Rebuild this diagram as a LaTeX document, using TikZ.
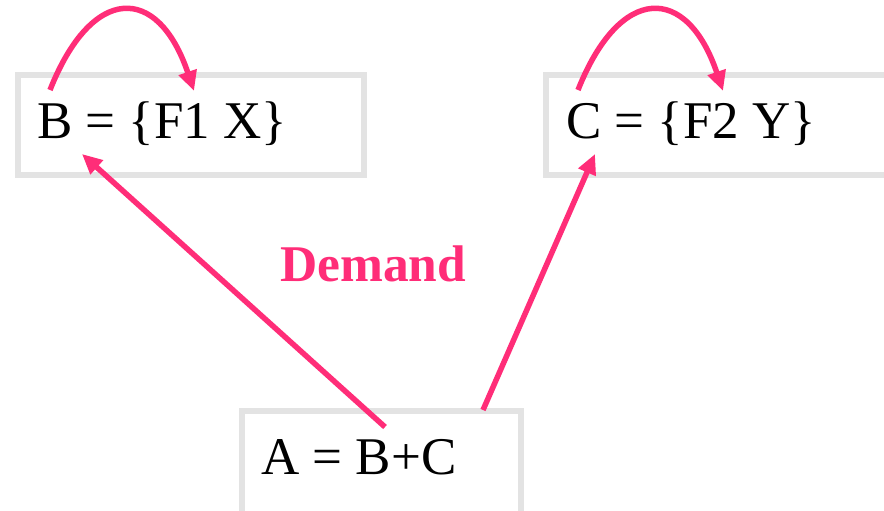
\documentclass[tikz,border=0pt]{standalone}
\usepackage{fontspec}
\setmainfont{Liberation Serif}
\usetikzlibrary{arrows.meta}
\definecolor{pinkc}{RGB}{255,45,120}
\definecolor{boxgrey}{RGB}{227,227,227}
\begin{document}
\begin{tikzpicture}[x=1pt,y=-1pt,
  boxst/.style={draw=boxgrey,line width=5.5pt,rectangle,inner sep=0pt},
  lbl/.style={anchor=base west,inner sep=0pt,font=\fontsize{53}{60}\selectfont},
  conn/.style={draw=pinkc,line width=5.5pt,-{Triangle[length=20pt,width=18pt]}},
]
\clip (0,0) rectangle (884,511);
\fill[white] (0,0) rectangle (884,511);
% boxes
\node[boxst,minimum width=346pt,minimum height=100pt] (bbox) at (191,125) {};
\node[boxst,minimum width=354pt,minimum height=100pt] (cbox) at (723,125) {};
\node[boxst,minimum width=279pt,minimum height=110pt] (abox) at (381.5,466) {};
% texts
\node[lbl] (btext) at (37,138) {B = \{F1 X\}};
\node[lbl] (ctext) at (566,138) {C = \{F2 Y\}};
\node[lbl] (atext) at (261,474) {A = B+C};
\node[anchor=base west,inner sep=0pt,text=pinkc,font=\fontsize{51.5}{60}\selectfont\bfseries] (demand) at (280,281) {Demand};
% connector endpoints
\coordinate (bs) at (50,90);
\coordinate (be) at (194,91);
\coordinate (cs) at (578,90);
\coordinate (ce) at (723,91);
\coordinate (ab) at (385,427);
\coordinate (bt) at (82,154);
\coordinate (ac) at (483,410);
\coordinate (ct) at (595,154);
% self loops
\draw[conn] (bs) .. controls (92,-16) and (158,-16) .. (be);
\draw[conn] (cs) .. controls (620,-16) and (687,-16) .. (ce);
% demand arrows
\draw[conn] (ab) -- (bt);
\draw[conn] (ac) -- (ct);
\end{tikzpicture}
\end{document}
